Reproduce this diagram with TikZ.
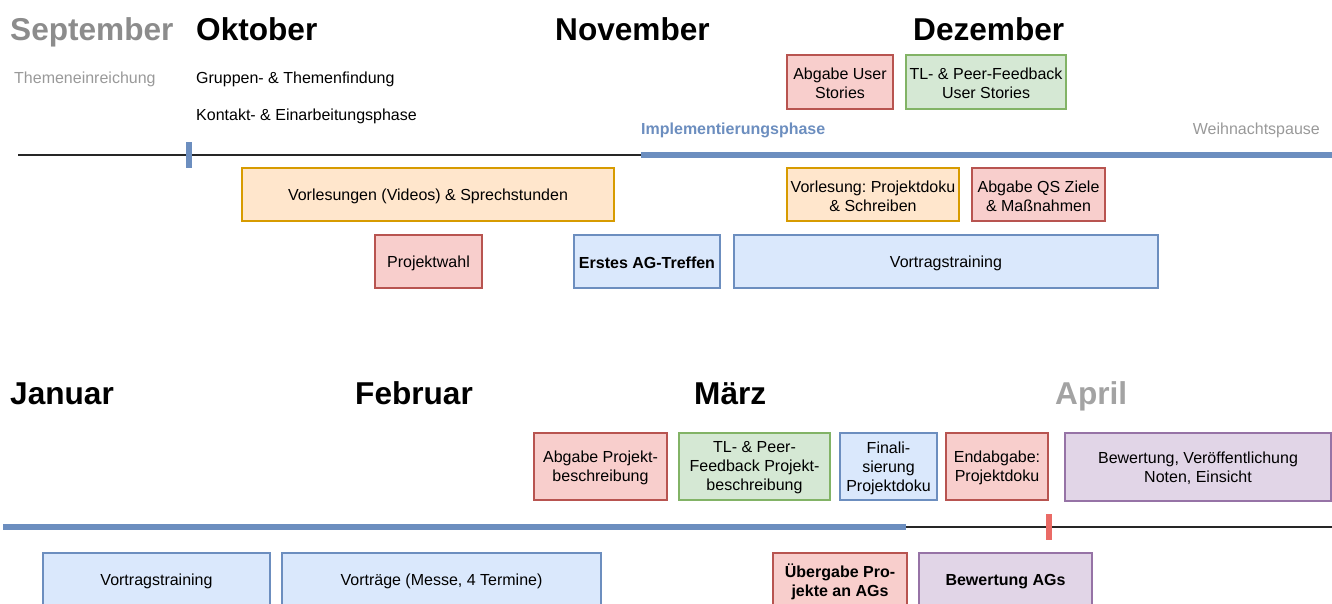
\documentclass[tikz,border=0pt]{standalone}
\usepackage{fontspec}
\setmainfont{Liberation Sans}
\frenchspacing
\definecolor{redF}{HTML}{F8CECC}\definecolor{redS}{HTML}{B85450}
\definecolor{greenF}{HTML}{D5E8D4}\definecolor{greenS}{HTML}{82B366}
\definecolor{blueF}{HTML}{DAE8FC}\definecolor{blueS}{HTML}{6C8EBF}
\definecolor{orangeF}{HTML}{FFE6CC}\definecolor{orangeS}{HTML}{D79B00}
\definecolor{purpleF}{HTML}{E1D5E7}\definecolor{purpleS}{HTML}{9673A6}
\definecolor{tickred}{HTML}{EA6B66}
\definecolor{monthgray}{HTML}{8C8C8C}
\definecolor{aprilgray}{HTML}{A3A3A3}
\definecolor{txtgray}{HTML}{999999}
\begin{document}
\begin{tikzpicture}[x=1pt,y=-1pt,
  ev/.style={draw, line width=1.3pt, inner sep=0pt},
  evtxt/.style={font=\fontsize{16}{19}\selectfont\frenchspacing, align=center, inner sep=0pt, yshift=-1.5pt},
  evbold/.style={font=\fontsize{16}{19}\selectfont\bfseries, align=center, inner sep=0pt, yshift=-1.5pt},
  redbox/.style={ev, fill=redF, draw=redS},
  greenbox/.style={ev, fill=greenF, draw=greenS},
  bluebox/.style={ev, fill=blueF, draw=blueS},
  orangebox/.style={ev, fill=orangeF, draw=orangeS},
  purplebox/.style={ev, fill=purpleF, draw=purpleS},
  month/.style={anchor=base west, inner sep=0pt, font=\fontsize{31.6}{36}\selectfont\bfseries},
  lbl/.style={anchor=base west, inner sep=0pt, font=\fontsize{16}{19}\selectfont},
  thinline/.style={line width=1.3pt, black!85},
  thickline/.style={line width=6pt, blueS},
  tick/.style={line width=6pt}
]
\useasboundingbox (0,0) rectangle (1332,603);
% ---- top row labels
\node[month, text=monthgray] (sep) at (10,40) {September};
\node[month] (okt) at (196,40) {Oktober};
\node[month] (nov) at (555,40) {November};
\node[month] (dez) at (913,40) {Dezember};
\node[lbl, text=txtgray] (thema) at (14,83) {Themeneinreichung};
\node[lbl] (grp) at (196,83) {Gruppen- \& Themenfindung};
\node[lbl] (kont) at (196,120) {Kontakt- \& Einarbeitungsphase};
\node[lbl, text=blueS, font=\fontsize{16}{19}\selectfont\bfseries] (impl) at (641,134) {Implementierungsphase};
\node[lbl, text=txtgray, anchor=base east] (weih) at (1320,134) {Weihnachtspause};
% ---- top timeline
\coordinate (t0) at (18,155);
\coordinate (t1) at (641,155);
\coordinate (t2) at (1332,155);
\draw[thinline] (t0) -- (t1);
\draw[thickline] (t1) -- (t2);
\coordinate (k1a) at (189,142);
\coordinate (k1b) at (189,168);
\draw[tick, blueS] (k1a) -- (k1b);
% ---- top boxes
\node[redbox, minimum width=106pt, minimum height=54pt, label={[evtxt]center:{Abgabe User\\Stories}}] (aus) at (840,82) {};
\node[greenbox, minimum width=160pt, minimum height=54pt, label={[evtxt]center:{TL- \& Peer-Feedback\\User Stories}}] (tlus) at (986,82) {};
\node[orangebox, minimum width=372pt, minimum height=53pt, label={[evtxt]center:{Vorlesungen (Videos) \& Sprechstunden}}] (vorl) at (428,194.5) {};
\node[orangebox, minimum width=172pt, minimum height=53pt, label={[evtxt]center:{Vorlesung: Projektdoku\\\& Schreiben}}] (vpd) at (873,194.5) {};
\node[redbox, minimum width=133pt, minimum height=53pt, label={[evtxt]center:{Abgabe QS Ziele\\\& Maßnahmen}}] (qs) at (1038.5,194.5) {};
\node[redbox, minimum width=107pt, minimum height=53pt, label={[evtxt]center:{Projektwahl}}] (pw) at (428.5,261.5) {};
\node[bluebox, minimum width=146pt, minimum height=53pt, label={[evbold]center:{Erstes AG-Treffen}}] (ag) at (647,261.5) {};
\node[bluebox, minimum width=424pt, minimum height=53pt, label={[evtxt]center:{Vortragstraining}}] (vt1) at (946,261.5) {};
% ---- bottom row labels
\node[month] (jan) at (10,404) {Januar};
\node[month] (feb) at (355,404) {Februar};
\node[month] (mar) at (694,404) {März};
\node[month, text=aprilgray] (apr) at (1055,404) {April};
% ---- bottom boxes above line
\node[redbox, minimum width=133pt, minimum height=67pt, label={[evtxt]center:{Abgabe Projekt-\\beschreibung}}] (apb) at (600.5,466.5) {};
\node[greenbox, minimum width=151pt, minimum height=67pt, label={[evtxt]center:{TL- \& Peer-\\Feedback Projekt-\\beschreibung}}] (tlpb) at (754.5,466.5) {};
\node[bluebox, minimum width=97pt, minimum height=67pt, label={[evtxt]center:{Finali-\\sierung\\Projektdoku}}] (fin) at (888.5,466.5) {};
\node[redbox, minimum width=102pt, minimum height=67pt, label={[evtxt]center:{Endabgabe:\\Projektdoku}}] (end) at (997,466.5) {};
\node[purplebox, minimum width=266pt, minimum height=68pt, label={[evtxt]center:{Bewertung, Veröffentlichung\\Noten, Einsicht}}] (bew) at (1198,467) {};
% ---- bottom timeline
\coordinate (b0) at (3,527);
\coordinate (b1) at (906,527);
\coordinate (b2) at (1332,527);
\draw[thickline] (b0) -- (b1);
\draw[thinline] (b1) -- (b2);
\coordinate (k2a) at (1049,514);
\coordinate (k2b) at (1049,540);
\draw[tick, tickred] (k2a) -- (k2b);
% ---- bottom boxes below line
\node[bluebox, minimum width=227pt, minimum height=54pt, label={[evtxt]center:{Vortragstraining}}] (vt2) at (156.5,580) {};
\node[bluebox, minimum width=319pt, minimum height=54pt, label={[evtxt]center:{Vorträge (Messe, 4 Termine)}}] (vtr) at (441.5,580) {};
\node[redbox, minimum width=134pt, minimum height=54pt, label={[evbold]center:{Übergabe Pro-\\jekte an AGs}}] (ueb) at (840,580) {};
\node[purplebox, minimum width=173pt, minimum height=54pt, label={[evbold]center:{Bewertung AGs}}] (bag) at (1005.5,580) {};
\end{tikzpicture}
\end{document}
